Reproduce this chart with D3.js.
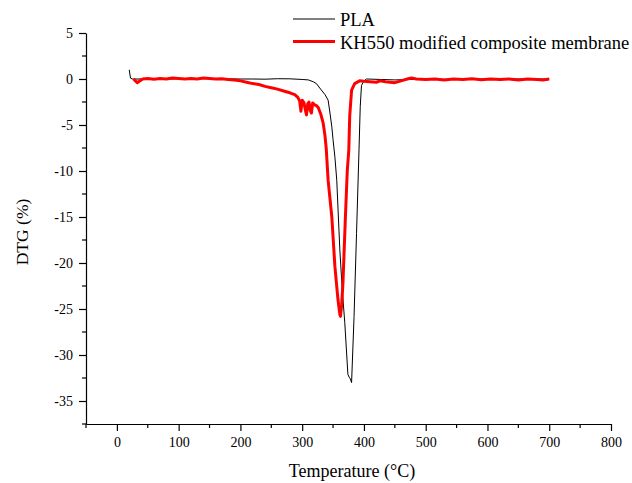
<!DOCTYPE html>
<html>
<head>
<meta charset="utf-8">
<script src="https://cdn.jsdelivr.net/npm/d3@7"></script>
<style>
	body { margin: 0; background: #fff; }
	svg { display: block; font-family: "Liberation Serif", "DejaVu Serif", serif; }
	.axis path, .axis line { stroke: #000; stroke-width: 1.2; }
</style>
</head>
<body>
<svg id="chart" width="632" height="483"></svg>
<script>
// temperature (°C) and DTG (%)
var plaTemp = [20, 22, 25, 40, 60, 80, 100, 120, 140, 160, 180, 200, 220, 240, 260, 280, 300, 310, 318, 323, 331, 337, 342, 345, 348, 350, 353, 356, 361, 365, 369, 374, 376, 378, 380, 384, 388, 392, 394, 396, 400, 404, 450, 500, 550, 600, 650, 700];
var plaDTG  = [1.0, 0.1, 0.0, 0.0, 0.05, 0.0, 0.02, 0.0, 0.05, 0.0, 0.02, 0.0, 0.0, -0.02, 0.03, 0.02, -0.05, -0.1, -0.3, -0.5, -1.2, -1.7, -2.3, -3.7, -5.2, -6.6, -8.5, -11, -18.6, -23, -26.5, -32.1, -32.4, -32.6, -33.0, -25.8, -16.8, -7.7, -3.0, -0.7, -0.2, 0.0, -0.1, 0.0, -0.05, 0.0, 0.0, 0.0];

var kh550Temp = [27, 30, 33, 37, 42, 50, 60, 70, 80, 90, 100, 110, 120, 130, 140, 150, 160, 170, 180, 190, 200, 210, 220, 230, 240, 250, 260, 270, 280, 288, 293, 296, 298, 300, 303, 305, 307, 309, 311, 313, 315, 317, 320, 323, 326, 330, 334, 337, 339, 342, 345, 348, 353, 358, 361, 362, 364, 366, 370, 373, 375.5, 377, 380, 385, 393, 400, 410, 420, 426, 435, 450, 460, 470, 477, 485, 500, 515, 530, 545, 560, 575, 590, 605, 620, 635, 650, 665, 680, 690, 700];
var kh550DTG  = [0, -0.2, -0.4, -0.2, 0.0, 0.05, -0.02, 0.05, 0.0, 0.1, 0.05, 0.0, 0.05, 0.0, 0.1, 0.05, 0.0, 0.02, -0.05, -0.1, -0.2, -0.35, -0.5, -0.6, -0.8, -0.95, -1.1, -1.3, -1.5, -1.7, -2.0, -2.4, -3.5, -2.3, -2.6, -3.3, -3.9, -2.7, -2.5, -3.4, -3.7, -2.6, -2.8, -2.9, -3.1, -3.8, -4.8, -6.2, -7.6, -11, -13, -15, -20.4, -24, -25.6, -25.8, -24.5, -22.2, -15, -10, -7.7, -4, -1.2, -0.5, -0.2, -0.25, -0.3, -0.35, -0.2, -0.3, -0.4, -0.2, 0.0, 0.1, 0.0, -0.05, 0.0, -0.1, 0.0, -0.05, 0.02, -0.08, 0.0, -0.05, 0.0, -0.1, 0.0, -0.05, -0.1, 0.0];

var xTicks = [0, 100, 200, 300, 400, 500, 600, 700, 800];
var yTicks = [5, 0, -5, -10, -15, -20, -25, -30, -35];

var seriesNames = ["PLA", "KH550 modified composite membrane"];
var seriesColors = ["#000000", "#ff0000"];

var svg = d3.select("#chart");
var serif = "'Liberation Serif', 'DejaVu Serif', serif";

var x = d3.scaleLinear().domain([-50, 800]).range([86, 611]);
var y = d3.scaleLinear().domain([-37.5, 5]).range([424, 33]);

// minor ticks every half step
var xMinor = d3.range(-50, 801, 50).filter(function(d) { return xTicks.indexOf(d) == -1; });
var yMinor = d3.range(-37.5, 5.1, 2.5).filter(function(d) { return yTicks.indexOf(d) == -1; });

function plainNumber(d) { return String(d); } // keep ascii hyphen as minus

var xAxis = svg.append("g")
	.attr("class", "axis")
	.attr("transform", "translate(0," + y.range()[0] + ")")
	.call(d3.axisBottom(x).tickValues(xTicks).tickFormat(plainNumber).tickSize(7).tickSizeOuter(0).tickPadding(6))
	.attr("font-family", serif)
	.attr("font-size", 14);
xAxis.selectAll(".minor")
	.data(xMinor)
	.enter()
	.append("line")
	.attr("x1", function(d) { return x(d); })
	.attr("x2", function(d) { return x(d); })
	.attr("y1", 0)
	.attr("y2", 4);

var yAxis = svg.append("g")
	.attr("class", "axis")
	.attr("transform", "translate(" + x.range()[0] + ",0)")
	.call(d3.axisLeft(y).tickValues(yTicks).tickFormat(plainNumber).tickSize(7).tickSizeOuter(0).tickPadding(6))
	.attr("font-family", serif)
	.attr("font-size", 14);
yAxis.selectAll(".minor")
	.data(yMinor)
	.enter()
	.append("line")
	.attr("x1", 0)
	.attr("x2", -4)
	.attr("y1", function(d) { return y(d); })
	.attr("y2", function(d) { return y(d); });

svg.selectAll(".axis text").style("fill", "#000");

// axis titles
svg.append("text")
	.attr("x", 352)
	.attr("y", 477)
	.style("text-anchor", "middle")
	.style("font-size", "18px")
	.text("Temperature (°C)");

svg.append("text")
	.attr("transform", "translate(28," + 232 + ") rotate(-90)")
	.style("text-anchor", "middle")
	.style("font-size", "17.5px")
	.text("DTG (%)");

// curves
var line = d3.line()
	.x(function(d) { return x(d[0]); })
	.y(function(d) { return y(d[1]); });

var plaData = plaTemp.map(function(t, i) { return [t, plaDTG[i]]; });
var kh550Data = kh550Temp.map(function(t, i) { return [t, kh550DTG[i]]; });

svg.append("path")
	.datum(plaData)
	.attr("d", line)
	.style("fill", "none")
	.style("stroke", seriesColors[0])
	.style("stroke-width", 1);

svg.append("path")
	.datum(kh550Data)
	.attr("d", line)
	.style("fill", "none")
	.style("stroke", seriesColors[1])
	.style("stroke-width", 3)
	.style("stroke-linejoin", "round");

// legend
var legend = svg.selectAll(".legend")
	.data(seriesNames)
	.enter()
	.append("g")
	.attr("class", "legend")
	.attr("transform", function(d, i) {
		return "translate(293," + (19 + i * 22.5) + ")";
	});

legend.append("line")
	.attr("x1", 0)
	.attr("x2", 42)
	.attr("y1", 0)
	.attr("y2", 0)
	.style("stroke", function(d, i) { return seriesColors[i]; })
	.style("stroke-width", function(d, i) { return i == 0 ? 1 : 3; });

legend.append("text")
	.attr("x", 47)
	.attr("y", 7)
	.style("font-size", "18.5px")
	.text(function(d) { return d; });
</script>
</body>
</html>
